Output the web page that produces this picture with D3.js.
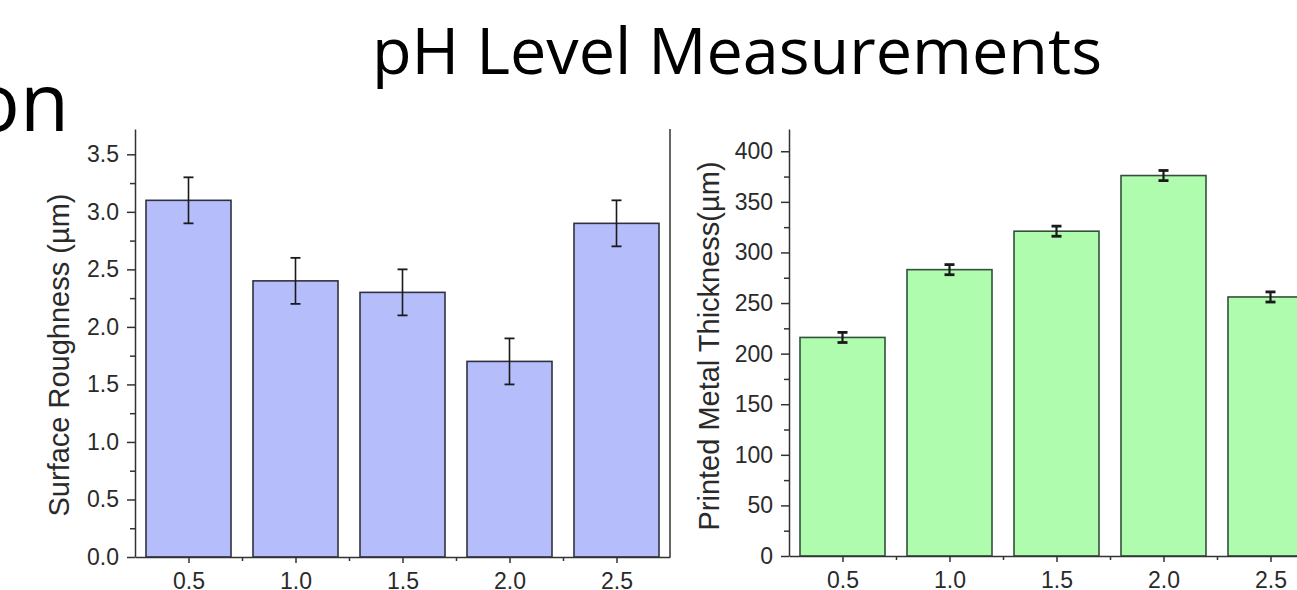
<!DOCTYPE html>
<html>
<head>
<meta charset="utf-8">
<script src="https://cdn.jsdelivr.net/npm/d3@7"></script>
<style>
  html, body { margin: 0; padding: 0; background: #fff; overflow: hidden; }
  svg { display: block; }
</style>
</head>
<body>
<div id="container"></div>
<script>
const width = 1297;
const height = 590;

// pH levels (shared x categories)
const phLevels = [0.5, 1.0, 1.5, 2.0, 2.5];

// left panel: surface roughness
const roughness = [3.1, 2.4, 2.3, 1.7, 2.9];
const roughnessErr = [0.2, 0.2, 0.2, 0.2, 0.2];
const roughnessTicks = [0.0, 0.5, 1.0, 1.5, 2.0, 2.5, 3.0, 3.5];

// right panel: printed metal thickness
const thickness = [216, 283, 321, 376, 256];
const thicknessErr = [5, 5, 5, 5, 5];
const thicknessTicks = [0, 50, 100, 150, 200, 250, 300, 350, 400];

const svg = d3.create("svg")
  .attr("width", width)
  .attr("height", height)
  .attr("viewBox", [0, 0, width, height]);

// title and leftover text from neighbouring slide
svg.append("text")
  .attr("x", 372)
  .attr("y", 74)
  .attr("textLength", 730)
  .attr("lengthAdjust", "spacingAndGlyphs")
  .style("font-family", "'Open Sans', sans-serif")
  .style("font-size", "64px")
  .attr("fill", "#000")
  .text("pH Level Measurements");

svg.append("text")
  .attr("x", 69)
  .attr("y", 131)
  .attr("text-anchor", "end")
  .style("font-family", "'Open Sans', sans-serif")
  .style("font-size", "80px")
  .attr("fill", "#000")
  .text("on");

function drawPanel(opts) {
  const g = svg.append("g");

  const x = d3.scaleLinear()
    .domain([0.25, 2.75])
    .range([opts.left, opts.left + 535]);

  const y = d3.scaleLinear()
    .domain([0, opts.yMax])
    .range([opts.bottom, opts.top]);

  const bw = 85;

  g.append("g")
    .selectAll("rect")
    .data(opts.values)
    .join("rect")
      .attr("x", (d, i) => x(phLevels[i]) - bw / 2)
      .attr("y", d => y(d))
      .attr("width", bw)
      .attr("height", d => y(0) - y(d))
      .attr("fill", opts.fill)
      .attr("stroke", opts.stroke)
      .attr("stroke-width", 1.6);

  // error bars
  const eb = g.append("g")
    .attr("stroke", "#1a1a1a")
    .selectAll("g")
    .data(opts.values)
    .join("g");
  eb.append("line")
    .attr("x1", (d, i) => x(phLevels[i]))
    .attr("x2", (d, i) => x(phLevels[i]))
    .attr("y1", (d, i) => y(d + opts.errors[i]))
    .attr("y2", (d, i) => y(d - opts.errors[i]))
    .attr("stroke-width", opts.errWidth);
  [1, -1].forEach(s => {
    eb.append("line")
      .attr("x1", (d, i) => x(phLevels[i]) - opts.cap)
      .attr("x2", (d, i) => x(phLevels[i]) + opts.cap)
      .attr("y1", (d, i) => y(d + s * opts.errors[i]))
      .attr("y2", (d, i) => y(d + s * opts.errors[i]))
      .attr("stroke-width", opts.capWidth);
  });

  const tickFont = g => g.selectAll("text")
    .style("font-family", "'Liberation Sans', Arial, sans-serif")
    .style("font-size", "23px")
    .attr("fill", "#2a2a2a");

  // y axis major + minor
  const minorY = d3.range(opts.minorStep, opts.yMax, opts.minorStep * 2);
  g.append("g")
    .attr("transform", `translate(${opts.left},0)`)
    .call(d3.axisLeft(y).tickValues(minorY).tickSize(5).tickFormat(""))
    .call(a => a.select(".domain").remove())
    .call(a => a.selectAll("line").attr("stroke", "#333").attr("stroke-width", 1.5));
  g.append("g")
    .attr("transform", `translate(${opts.left},0)`)
    .call(d3.axisLeft(y).tickValues(opts.ticks).tickSize(8).tickPadding(8).tickSizeOuter(0)
      .tickFormat(opts.fmt))
    .call(a => a.select(".domain").attr("stroke", "#333").attr("stroke-width", 1.5))
    .call(a => a.selectAll(".tick line").attr("stroke", "#333").attr("stroke-width", 1.5))
    .call(tickFont);

  // x axis major + minor
  g.append("g")
    .attr("transform", `translate(0,${opts.bottom})`)
    .call(d3.axisBottom(x).tickValues([0.75, 1.25, 1.75, 2.25]).tickSize(4).tickFormat(""))
    .call(a => a.select(".domain").remove())
    .call(a => a.selectAll("line").attr("stroke", "#333").attr("stroke-width", 1.5));
  g.append("g")
    .attr("transform", `translate(0,${opts.bottom})`)
    .call(d3.axisBottom(x).tickValues(phLevels).tickSize(6).tickPadding(10).tickSizeOuter(0)
      .tickFormat(d3.format(".1f")))
    .call(a => a.select(".domain").attr("stroke", "#333").attr("stroke-width", 1.5))
    .call(a => a.selectAll(".tick line").attr("stroke", "#333").attr("stroke-width", 1.5))
    .call(tickFont);

  // right frame line
  g.append("line")
    .attr("x1", x.range()[1]).attr("x2", x.range()[1])
    .attr("y1", opts.top).attr("y2", opts.bottom)
    .attr("stroke", "#333").attr("stroke-width", 1.5);

  g.append("text")
    .attr("transform", `translate(${opts.labelX},${opts.labelY}) rotate(-90)`)
    .attr("text-anchor", "middle")
    .style("font-family", "'Liberation Sans', Arial, sans-serif")
    .style("font-size", "29px")
    .attr("fill", "#2a2a2a")
    .text(opts.label);
}

drawPanel({
  left: 135, top: 129, bottom: 557, yMax: 3.72,
  values: roughness, errors: roughnessErr, ticks: roughnessTicks,
  fmt: d3.format(".1f"), minorStep: 0.25,
  fill: "#b5befa", stroke: "#2f3140",
  errWidth: 1.6, capWidth: 1.8, cap: 5,
  label: "Surface Roughness (µm)", labelX: 69, labelY: 355
});

drawPanel({
  left: 789, top: 129, bottom: 556, yMax: 422,
  values: thickness, errors: thicknessErr, ticks: thicknessTicks,
  fmt: d3.format("d"), minorStep: 25,
  fill: "#b0fcae", stroke: "#34503a",
  errWidth: 2.2, capWidth: 2.8, cap: 5,
  label: "Printed Metal Thickness(µm)", labelX: 719, labelY: 346
});

document.getElementById("container").appendChild(svg.node());
</script>
</body>
</html>
